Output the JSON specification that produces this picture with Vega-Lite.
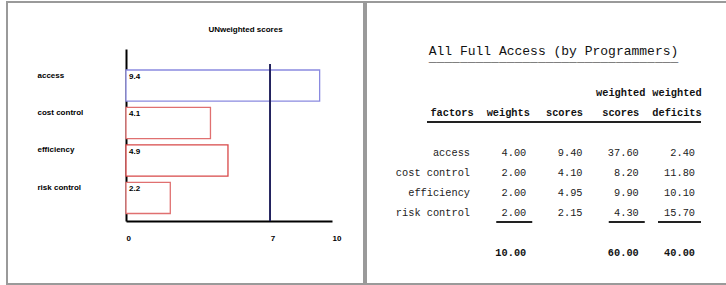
{
  "$schema": "https://vega.github.io/schema/vega-lite/v6.json",
  "padding": {"left": 6, "top": 1, "right": 1, "bottom": 1},
  "background": "white",
  "spacing": 0,
  "config": {"font": "Liberation Sans"},
  "datasets": {
    "bars": [
      {"factor": "access", "score": 9.4, "label": "9.4"},
      {"factor": "cost control", "score": 4.1, "label": "4.1"},
      {"factor": "efficiency", "score": 4.95, "label": "4.9"},
      {"factor": "risk control", "score": 2.15, "label": "2.2"}
    ],
    "cells": [
      {"row": "h1", "col": "wscores", "text": "weighted", "kind": "header"},
      {"row": "h1", "col": "deficits", "text": "weighted", "kind": "header"},
      {"row": "h2", "col": "factors", "text": "factors", "kind": "header"},
      {"row": "h2", "col": "weights", "text": "weights", "kind": "header"},
      {"row": "h2", "col": "scores", "text": "scores", "kind": "header"},
      {"row": "h2", "col": "wscores", "text": "scores", "kind": "header"},
      {"row": "h2", "col": "deficits", "text": "deficits", "kind": "header"},
      {"row": "access", "col": "factors", "text": "access", "kind": "body"},
      {"row": "access", "col": "weights", "text": "4.00", "kind": "body"},
      {"row": "access", "col": "scores", "text": "9.40", "kind": "body"},
      {"row": "access", "col": "wscores", "text": "37.60", "kind": "body"},
      {"row": "access", "col": "deficits", "text": "2.40", "kind": "body"},
      {"row": "cost control", "col": "factors", "text": "cost control", "kind": "body"},
      {"row": "cost control", "col": "weights", "text": "2.00", "kind": "body"},
      {"row": "cost control", "col": "scores", "text": "4.10", "kind": "body"},
      {"row": "cost control", "col": "wscores", "text": "8.20", "kind": "body"},
      {"row": "cost control", "col": "deficits", "text": "11.80", "kind": "body"},
      {"row": "efficiency", "col": "factors", "text": "efficiency", "kind": "body"},
      {"row": "efficiency", "col": "weights", "text": "2.00", "kind": "body"},
      {"row": "efficiency", "col": "scores", "text": "4.95", "kind": "body"},
      {"row": "efficiency", "col": "wscores", "text": "9.90", "kind": "body"},
      {"row": "efficiency", "col": "deficits", "text": "10.10", "kind": "body"},
      {"row": "risk control", "col": "factors", "text": "risk control", "kind": "body"},
      {"row": "risk control", "col": "weights", "text": "2.00", "kind": "body"},
      {"row": "risk control", "col": "scores", "text": "2.15", "kind": "body"},
      {"row": "risk control", "col": "wscores", "text": "4.30", "kind": "body"},
      {"row": "risk control", "col": "deficits", "text": "15.70", "kind": "body"},
      {"row": "total", "col": "weights", "text": "10.00", "kind": "total"},
      {"row": "total", "col": "wscores", "text": "60.00", "kind": "total"},
      {"row": "total", "col": "deficits", "text": "40.00", "kind": "total"}
    ],
    "sumlines": [
      {"row": "risk control", "col": "weights"},
      {"row": "risk control", "col": "wscores"},
      {"row": "risk control", "col": "deficits"}
    ]
  },
  "hconcat": [
    {
      "width": 357,
      "height": 282,
      "view": {"stroke": "#9a9a9a", "strokeWidth": 2, "fill": "white"},
      "title": {
        "text": "UNweighted scores",
        "font": "Liberation Sans",
        "fontSize": 8,
        "fontWeight": "bold",
        "color": "#000",
        "anchor": "middle",
        "dx": 60,
        "offset": -32
      },
      "data": {"name": "bars"},
      "layer": [
        {
          "layer": [
            {
              "mark": {"type": "bar", "fill": "white", "strokeWidth": 1.3},
              "encoding": {
                "x": {
                  "field": "score",
                  "type": "quantitative",
                  "scale": {"domain": [0, 10], "range": [119, 325], "nice": false, "zero": true},
                  "axis": {
                    "orient": "bottom",
                    "offset": -63,
                    "values": [0, 7, 10],
                    "title": null,
                    "grid": false,
                    "ticks": false,
                    "domainColor": "#000",
                    "domainWidth": 2,
                    "labelFont": "Liberation Sans",
                    "labelFontSize": 8,
                    "labelFontWeight": "bold",
                    "labelColor": "#000",
                    "labelAlign": "left",
                    "labelFlush": false,
                    "labelPadding": 13
                  }
                },
                "y": {
                  "field": "factor",
                  "type": "nominal",
                  "sort": null,
                  "scale": {"range": [47, 219], "paddingInner": 0.17, "paddingOuter": 0.38, "align": 0.737},
                  "axis": {
                    "orient": "left",
                    "offset": -119,
                    "title": null,
                    "ticks": false,
                    "domainColor": "#000",
                    "domainWidth": 2,
                    "labelFont": "Liberation Sans",
                    "labelFontSize": 8,
                    "labelFontWeight": "bold",
                    "labelColor": "#000",
                    "labelAlign": "left",
                    "labelBaseline": "middle",
                    "labelPadding": 89,
                    "labelOffset": -10,
                    "labelLimit": 200
                  }
                },
                "stroke": {
                  "field": "factor",
                  "type": "nominal",
                  "scale": {
                    "domain": ["access", "cost control", "efficiency", "risk control"],
                    "range": ["#8a8ae0", "#e07070", "#d84848", "#e07070"]
                  },
                  "legend": null
                }
              }
            },
            {
              "mark": {
                "type": "text",
                "align": "left",
                "baseline": "top",
                "dx": 3,
                "dy": 3,
                "font": "Liberation Sans",
                "fontSize": 8,
                "fontWeight": "bold",
                "color": "#000"
              },
              "encoding": {
                "x": {"datum": 0, "type": "quantitative"},
                "y": {"field": "factor", "type": "nominal", "sort": null, "bandPosition": 0},
                "text": {"field": "label"}
              }
            }
          ]
        },
        {
          "mark": {"type": "rule", "color": "#23235e", "strokeWidth": 1.5},
          "encoding": {
            "x": {"datum": 7, "type": "quantitative"},
            "y": {
              "datum": 0.913,
              "type": "quantitative",
              "scale": {"domain": [0, 1], "range": [219, 47], "nice": false},
              "axis": null
            },
            "y2": {"datum": 0}
          }
        }
      ],
      "resolve": {"scale": {"y": "independent"}, "axis": {"y": "independent"}}
    },
    {
      "width": 361,
      "height": 282,
      "view": {"stroke": "#9a9a9a", "strokeWidth": 2, "fill": "white"},
      "title": {
        "text": "All Full Access (by Programmers)",
        "subtitle": "________________________________",
        "font": "Liberation Mono",
        "fontSize": 13,
        "fontWeight": "normal",
        "color": "#111",
        "subtitleFont": "Liberation Mono",
        "subtitleFontSize": 13,
        "subtitleFontWeight": "bold",
        "subtitleColor": "#111",
        "subtitlePadding": -7,
        "anchor": "middle",
        "dx": 7,
        "offset": -62
      },
      "data": {"name": "cells"},
      "encoding": {
        "x": {
          "field": "col",
          "type": "nominal",
          "scale": {
            "type": "point",
            "padding": 0,
            "domain": ["factors", "weights", "scores", "wscores", "deficits"],
            "range": [104, 329]
          },
          "axis": null
        },
        "y": {
          "field": "row",
          "type": "nominal",
          "scale": {
            "type": "point",
            "padding": 0,
            "domain": ["h1", "h2", "g1", "access", "cost control", "efficiency", "risk control", "g2", "total"],
            "range": [91, 251]
          },
          "axis": null
        }
      },
      "layer": [
        {
          "transform": [{"filter": "datum.kind === 'body'"}],
          "mark": {
            "type": "text",
            "align": "right",
            "baseline": "middle",
            "font": "Liberation Mono",
            "fontSize": 10.3,
            "color": "#222"
          },
          "encoding": {"text": {"field": "text"}}
        },
        {
          "transform": [{"filter": "datum.kind === 'header'"}],
          "mark": {
            "type": "text",
            "align": "center",
            "baseline": "middle",
            "dx": -18,
            "font": "Liberation Mono",
            "fontSize": 10.3,
            "fontWeight": "bold",
            "color": "#111"
          },
          "encoding": {"text": {"field": "text"}}
        },
        {
          "transform": [{"filter": "datum.kind === 'total'"}],
          "mark": {
            "type": "text",
            "align": "right",
            "baseline": "middle",
            "font": "Liberation Mono",
            "fontSize": 10.3,
            "fontWeight": "bold",
            "color": "#111"
          },
          "encoding": {"text": {"field": "text"}}
        },
        {
          "data": {"values": [{"row": "h2", "from": "factors", "to": "deficits"}]},
          "mark": {"type": "rule", "color": "#222", "strokeWidth": 2, "xOffset": -43, "x2Offset": 6, "yOffset": 9},
          "encoding": {
            "x": {"field": "from", "type": "nominal"},
            "x2": {"field": "to"},
            "y": {"field": "row", "type": "nominal"}
          }
        },
        {
          "data": {"name": "sumlines"},
          "transform": [{"filter": "datum.col !== 'deficits'"}],
          "mark": {"type": "rule", "color": "#222", "strokeWidth": 2, "xOffset": -30, "x2Offset": 6, "yOffset": 9},
          "encoding": {
            "x": {"field": "col", "type": "nominal"},
            "x2": {"field": "col"},
            "y": {"field": "row", "type": "nominal"}
          }
        },
        {
          "data": {"name": "sumlines"},
          "transform": [{"filter": "datum.col === 'deficits'"}],
          "mark": {"type": "rule", "color": "#222", "strokeWidth": 2, "xOffset": -37, "x2Offset": 6, "yOffset": 9},
          "encoding": {
            "x": {"field": "col", "type": "nominal"},
            "x2": {"field": "col"},
            "y": {"field": "row", "type": "nominal"}
          }
        }
      ]
    }
  ]
}
